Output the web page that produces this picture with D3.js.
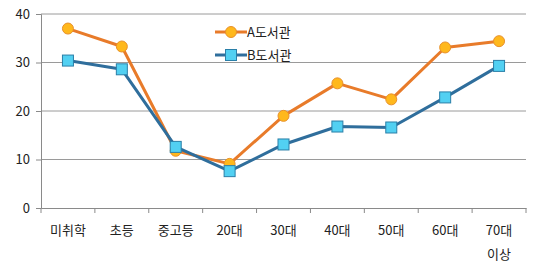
<!DOCTYPE html>
<html><head><meta charset="utf-8">
<script src="https://cdn.jsdelivr.net/npm/d3@7"></script>
<style>body{margin:0;background:#fff}svg{display:block}text{font-family:"Noto Sans CJK KR","Noto Sans",sans-serif;fill:#222}</style>
</head><body>
<svg id="c" width="536" height="264"></svg>
<script>
const categories = ["미취학","초등","중고등","20대","30대","40대","50대","60대","70대\n이상"];
const seriesA = [37.0,33.3,11.8,9.1,19.0,25.7,22.4,33.1,34.4];
const seriesB = [30.4,28.6,12.6,7.6,13.1,16.8,16.6,22.8,29.3];
const yTicks = [0,10,20,30,40];
const seriesNames = ["A도서관","B도서관"];

const svg = d3.select("#c");
const L=41,R=526,T=14,B=208;
const x = d3.scaleBand().domain(categories).range([L,R]);
const y = d3.scaleLinear().domain([0,40]).range([B,T]);

// gridlines
svg.append("g").selectAll("line").data(yTicks.filter(d=>d>0)).join("line")
 .attr("x1",L).attr("x2",R).attr("y1",d=>y(d)).attr("y2",d=>y(d))
 .attr("stroke","#9a9a9a").attr("stroke-width",1);
// y axis
const ya = svg.append("g").attr("transform",`translate(${L},0)`)
 .call(d3.axisLeft(y).tickValues(yTicks).tickSize(5).tickPadding(6));
ya.select(".domain").attr("stroke","#8a8a8a");
ya.selectAll(".tick line").attr("stroke","#8a8a8a");
ya.selectAll("text").style("font-size","13px").attr("fill","#333");
// x axis
const xa = svg.append("g").attr("transform",`translate(0,${B})`)
 .call(d3.axisBottom(x).tickSize(0).tickFormat(""));
xa.select(".domain").attr("stroke","#8a8a8a");
const edges = categories.map(c=>x(c)).concat([R]);
svg.append("g").selectAll("line").data(edges).join("line")
 .attr("x1",d=>d).attr("x2",d=>d).attr("y1",B).attr("y2",B+5).attr("stroke","#8a8a8a");
const lab = svg.append("g").selectAll("text").data(categories).join("text")
 .attr("x",d=>x(d)+x.bandwidth()/2).attr("y",235).attr("text-anchor","middle")
 .style("font-size","13px").attr("fill","#333");
lab.each(function(d){
  const parts=d.split("\n");
  d3.select(this).selectAll("tspan").data(parts).join("tspan")
   .attr("x",x(d)+x.bandwidth()/2).attr("dy",(p,i)=>i?24:0).text(p=>p);
});

const cx = (d,i)=>x(categories[i])+x.bandwidth()/2;
const line = d3.line().x(cx).y(d=>y(d));
// series B then A? draw B first, A on top except markers
svg.append("path").datum(seriesA).attr("d",line).attr("fill","none").attr("stroke","#E87B2A").attr("stroke-width",3).attr("stroke-linejoin","round");
svg.append("g").selectAll("circle").data(seriesA).join("circle")
 .attr("cx",cx).attr("cy",d=>y(d)).attr("r",5.5).attr("fill","#FFB81C").attr("stroke","#E8902A").attr("stroke-width",1);
svg.append("path").datum(seriesB).attr("d",line).attr("fill","none").attr("stroke","#2F6E9C").attr("stroke-width",3).attr("stroke-linejoin","round");
svg.append("g").selectAll("rect").data(seriesB).join("rect")
 .attr("x",(d,i)=>cx(d,i)-5.5).attr("y",d=>y(d)-5.5).attr("width",11).attr("height",11)
 .attr("fill","#52D0F2").attr("stroke","#2A7FA8").attr("stroke-width",1);

// legend
const lg = svg.append("g");
[0,1].forEach(i=>{
  const yy = 32+i*23;
  lg.append("line").attr("x1",215).attr("x2",247).attr("y1",yy).attr("y2",yy)
   .attr("stroke",i?"#2F6E9C":"#E87B2A").attr("stroke-width",3);
  if(i==0) lg.append("circle").attr("cx",231).attr("cy",yy).attr("r",5.5).attr("fill","#FFB81C").attr("stroke","#E8902A");
  else lg.append("rect").attr("x",225.5).attr("y",yy-5.5).attr("width",11).attr("height",11).attr("fill","#52D0F2").attr("stroke","#2A7FA8");
  lg.append("text").attr("x",247).attr("y",yy+5).style("font-size","13px").attr("fill","#333").text(seriesNames[i]);
});
</script>
</body></html>
